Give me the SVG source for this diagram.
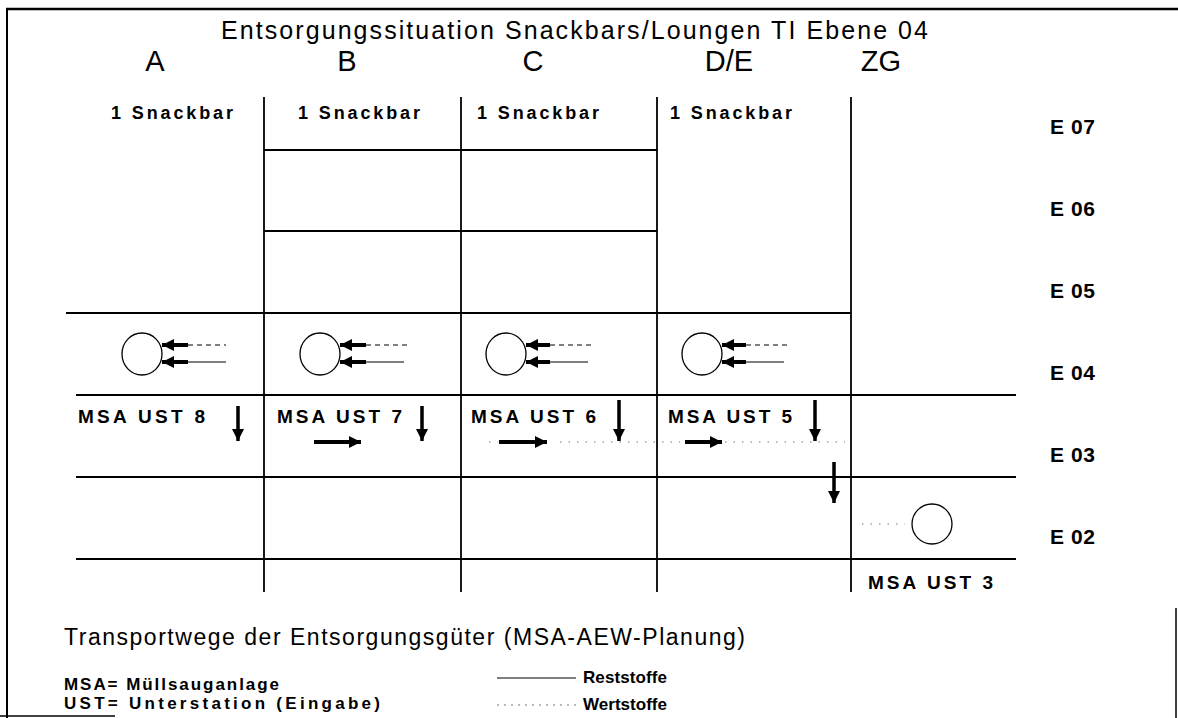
<svg xmlns="http://www.w3.org/2000/svg" width="1178" height="718" viewBox="0 0 1178 718">
<style>
  .t{font-family:"Liberation Sans",Arial,sans-serif;fill:#000}
  .b{font-weight:bold}
  .grid{stroke:#000;stroke-width:1.8;fill:none}
  .thin{stroke:#000;stroke-width:1.2;fill:none}
  .dash{stroke:#000;stroke-width:1.2;fill:none;stroke-dasharray:5 4}
  .dot{stroke:#777;stroke-width:1;fill:none;stroke-dasharray:1.5 7}
  .thick{stroke:#000;stroke-width:4;fill:none}
  .circ{stroke:#000;stroke-width:1.3;fill:#fff}
</style>
<defs>
  <marker id="ah" markerUnits="userSpaceOnUse" markerWidth="14" markerHeight="12" refX="12" refY="6" orient="auto">
    <polygon points="0,0 12,6 0,12" fill="#000"/>
  </marker>
</defs>
<rect width="1178" height="718" fill="#fff"/>
<g id="frame">
  <line class="grid" x1="6" y1="9" x2="1178" y2="9" style="stroke-width:2.5"/>
  <line class="grid" x1="7" y1="9" x2="7" y2="718" style="stroke-width:2"/>
  <line class="grid" x1="0" y1="716" x2="115" y2="716" style="stroke-width:1.5"/>
  <line class="grid" x1="1176" y1="608" x2="1176" y2="718" style="stroke-width:1.5"/>
</g>
<g id="title">
  <text class="t" x="221" y="39" font-size="25" textLength="707" lengthAdjust="spacing">Entsorgungssituation Snackbars/Loungen TI Ebene 04</text>
</g>
<g id="columns">
  <text class="t" x="155" y="71" font-size="29" text-anchor="middle">A</text>
  <text class="t" x="347" y="71" font-size="29" text-anchor="middle">B</text>
  <text class="t" x="533" y="71" font-size="29" text-anchor="middle">C</text>
  <text class="t" x="729" y="71" font-size="29" text-anchor="middle">D/E</text>
  <text class="t" x="881" y="71" font-size="29" text-anchor="middle">ZG</text>
</g>
<g id="grid">
  <line class="grid" x1="264" y1="97" x2="264" y2="592"/>
  <line class="grid" x1="461" y1="97" x2="461" y2="592"/>
  <line class="grid" x1="657" y1="97" x2="657" y2="592"/>
  <line class="grid" x1="851" y1="97" x2="851" y2="592"/>
  <line class="grid" x1="264" y1="150" x2="657" y2="150"/>
  <line class="grid" x1="264" y1="231" x2="657" y2="231"/>
  <line class="grid" x1="66" y1="313" x2="851" y2="313"/>
  <line class="grid" x1="76" y1="395" x2="1016" y2="395"/>
  <line class="grid" x1="76" y1="477" x2="1016" y2="477"/>
  <line class="grid" x1="76" y1="559" x2="1016" y2="559"/>
</g>
<g id="snackbars">
  <text class="t b" x="111" y="119" font-size="18" textLength="122" lengthAdjust="spacing">1 Snackbar</text>
  <text class="t b" x="298" y="119" font-size="18" textLength="122" lengthAdjust="spacing">1 Snackbar</text>
  <text class="t b" x="477" y="119" font-size="18" textLength="122" lengthAdjust="spacing">1 Snackbar</text>
  <text class="t b" x="670" y="119" font-size="18" textLength="122" lengthAdjust="spacing">1 Snackbar</text>
</g>
<g id="levels">
  <text class="t b" x="1050" y="134" font-size="21" textLength="45" lengthAdjust="spacing">E 07</text>
  <text class="t b" x="1050" y="216" font-size="21" textLength="45" lengthAdjust="spacing">E 06</text>
  <text class="t b" x="1050" y="298" font-size="21" textLength="45" lengthAdjust="spacing">E 05</text>
  <text class="t b" x="1050" y="380" font-size="21" textLength="45" lengthAdjust="spacing">E 04</text>
  <text class="t b" x="1050" y="462" font-size="21" textLength="45" lengthAdjust="spacing">E 03</text>
  <text class="t b" x="1050" y="544" font-size="21" textLength="45" lengthAdjust="spacing">E 02</text>
</g>
<g id="ust-labels">
  <text class="t b" x="78" y="423" font-size="19" textLength="127" lengthAdjust="spacing">MSA UST 8</text>
  <text class="t b" x="277" y="423" font-size="19" textLength="125" lengthAdjust="spacing">MSA UST 7</text>
  <text class="t b" x="471" y="423" font-size="19" textLength="125" lengthAdjust="spacing">MSA UST 6</text>
  <text class="t b" x="668" y="423" font-size="19" textLength="124" lengthAdjust="spacing">MSA UST 5</text>
  <text class="t b" x="868" y="589" font-size="19" textLength="125" lengthAdjust="spacing">MSA UST 3</text>
</g>
<g id="stations">
  <ellipse id="ust8" class="circ" cx="142" cy="354" rx="20" ry="21"/>
  <ellipse id="ust7" class="circ" cx="320" cy="354" rx="20" ry="21"/>
  <ellipse id="ust6" class="circ" cx="506" cy="354" rx="20" ry="21"/>
  <ellipse id="ust5" class="circ" cx="702" cy="354" rx="20" ry="21"/>
  <circle id="ust3" class="circ" cx="932" cy="524" r="20"/>
</g>
<g id="connectors">
  <line class="dash" x1="188" y1="345" x2="226" y2="345"/>
  <line class="thin" x1="188" y1="362" x2="226" y2="362"/>
  <path class="thick" d="M188,345 H162" marker-end="url(#ah)"/>
  <path class="thick" d="M188,362 H162" marker-end="url(#ah)"/>
  <line class="dash" x1="366" y1="345" x2="408" y2="345"/>
  <line class="thin" x1="366" y1="362" x2="404" y2="362"/>
  <path class="thick" d="M366,345 H340" marker-end="url(#ah)"/>
  <path class="thick" d="M366,362 H340" marker-end="url(#ah)"/>
  <line class="dash" x1="550" y1="345" x2="591" y2="345"/>
  <line class="thin" x1="550" y1="362" x2="588" y2="362"/>
  <path class="thick" d="M550,345 H526" marker-end="url(#ah)"/>
  <path class="thick" d="M550,362 H526" marker-end="url(#ah)"/>
  <line class="dash" x1="746" y1="345" x2="788" y2="345"/>
  <line class="thin" x1="746" y1="362" x2="784" y2="362"/>
  <path class="thick" d="M746,345 H722" marker-end="url(#ah)"/>
  <path class="thick" d="M746,362 H722" marker-end="url(#ah)"/>
  <path class="thick" style="stroke-width:3.5" d="M238,406 V441" marker-end="url(#ah)"/>
  <path class="thick" style="stroke-width:3.5" d="M422,406 V441" marker-end="url(#ah)"/>
  <path class="thick" style="stroke-width:3.5" d="M619,400 V441" marker-end="url(#ah)"/>
  <path class="thick" style="stroke-width:3.5" d="M815,400 V441" marker-end="url(#ah)"/>
  <path class="thick" style="stroke-width:3.5" d="M834,462 V503" marker-end="url(#ah)"/>
  <path class="thick" d="M314,442 H361" marker-end="url(#ah)"/>
  <path class="thick" d="M499,442 H547" marker-end="url(#ah)"/>
  <path class="thick" d="M685,442 H722" marker-end="url(#ah)"/>
  <line class="dot" x1="489" y1="442" x2="498" y2="442"/>
  <line class="dot" x1="560" y1="442" x2="680" y2="442"/>
  <line class="dot" x1="725" y1="442" x2="845" y2="442"/>
  <line class="dot" x1="862" y1="524" x2="905" y2="524"/>
</g>
<g id="legend">
  <text class="t" x="64" y="645" font-size="23" textLength="681" lengthAdjust="spacing">Transportwege der Entsorgungsgüter (MSA-AEW-Planung)</text>
  <text class="t b" x="64" y="690" font-size="17" textLength="215" lengthAdjust="spacing">MSA= Müllsauganlage</text>
  <text class="t b" x="64" y="709" font-size="17" textLength="316" lengthAdjust="spacing">UST= Unterstation (Eingabe)</text>
  <line class="thin" x1="497" y1="678" x2="576" y2="678"/>
  <text class="t b" x="583" y="683" font-size="17" textLength="84" lengthAdjust="spacing">Reststoffe</text>
  <line class="dot" x1="497" y1="705" x2="576" y2="705" style="stroke-dasharray:2 5"/>
  <text class="t b" x="583" y="710" font-size="17" textLength="84" lengthAdjust="spacing">Wertstoffe</text>
</g>
</svg>
